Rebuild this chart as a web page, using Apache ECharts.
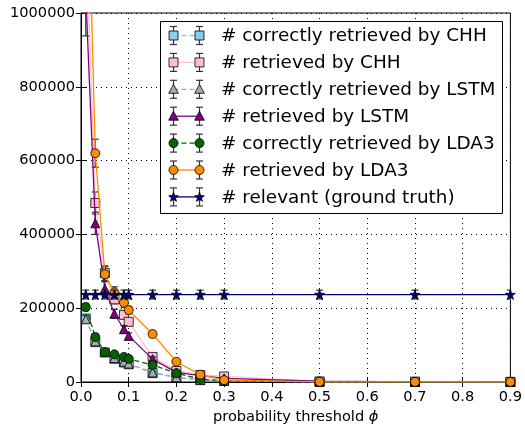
<!DOCTYPE html>
<html>
<head>
<meta charset="utf-8">
<script src="https://cdn.jsdelivr.net/npm/echarts@6/dist/echarts.min.js"></script>
<style>html,body{margin:0;padding:0;background:#fff}#c{width:525px;height:430px}</style>
</head>
<body>
<div id="c"></div>
<script>
// ---- data ----
const thresholds = [0.01, 0.03, 0.05, 0.07, 0.09, 0.1, 0.15, 0.2, 0.25, 0.3, 0.5, 0.7, 0.9];
const chhCorrect    = [172000, 108000, 80000, 63000, 53000, 48000, 24000, 12000, 5000, 3000, 500, 200, 0];
const chhRetrieved  = [1250000, 485000, 295000, 224000, 182000, 163000, 68000, 30000, 19000, 15000, 1500, 1000, 500];
const lstmCorrect   = [170000, 110000, 82000, 65000, 55000, 50000, 26000, 13000, 6000, 3000, 500, 200, 0];
const lstmRetrieved = [1050000, 430000, 253000, 185000, 143000, 125000, 62000, 26000, 17000, 10000, 2000, 500, 200];
const lda3Correct   = [203000, 122000, 81000, 75000, 68000, 63000, 46000, 24000, 8000, 3000, 0, 0, 0];
const lda3Retrieved = [1600000, 620000, 292000, 243000, 215000, 195000, 130000, 55000, 20000, 5000, 500, 300, 200];
const relevant      = [237000, 237000, 237000, 237000, 237000, 237000, 237000, 237000, 237000, 237000, 237000, 237000, 237000];
// error bar half-lengths (estimated)
const chhCorrectErr    = [10000, 8000, 6000, 5000, 4000, 4000, 3000, 2000, 1000, 1000, 300, 300, 300];
const chhRetrievedErr  = [80000, 30000, 20000, 12000, 10000, 8000, 6000, 4000, 3000, 2000, 500, 500, 500];
const lstmCorrectErr   = [10000, 8000, 6000, 5000, 4000, 4000, 3000, 2000, 1000, 1000, 300, 300, 300];
const lstmRetrievedErr = [112000, 30000, 20000, 12000, 10000, 8000, 6000, 4000, 3000, 2000, 500, 500, 500];
const lda3CorrectErr   = [10000, 8000, 6000, 5000, 4000, 4000, 3000, 2000, 1000, 1000, 300, 300, 300];
const lda3RetrievedErr = [80000, 38000, 20000, 15000, 12000, 10000, 8000, 6000, 4000, 2000, 500, 500, 500];
const relevantErr      = [12000, 12000, 12000, 12000, 12000, 12000, 12000, 12000, 12000, 12000, 12000, 12000, 12000];
const xTicks = [0, 0.1, 0.2, 0.3, 0.4, 0.5, 0.6, 0.7, 0.8, 0.9];
const yTicks = [0, 200000, 400000, 600000, 800000, 1000000];
const legendNames = ['# correctly retrieved by CHH', '# retrieved by CHH', '# correctly retrieved by LSTM',
  '# retrieved by LSTM', '# correctly retrieved by LDA3', '# retrieved by LDA3', '# relevant (ground truth)'];

const STAR = 'path://M50,0 L61.2,34.5 L97.6,34.5 L68.2,55.9 L79.4,90.5 L50,69.1 L20.6,90.5 L31.8,55.9 L2.4,34.5 L38.8,34.5 Z';
const FONT = 'DejaVu Sans';

const defs = [
  {name: legendNames[0], vals: chhCorrect, err: chhCorrectErr, color: '#87CEEB', sym: 'rect', size: 9, dash: [5, 3]},
  {name: legendNames[1], vals: chhRetrieved, err: chhRetrievedErr, color: '#FFC0CB', sym: 'rect', size: 9, dash: null},
  {name: legendNames[2], vals: lstmCorrect, err: lstmCorrectErr, color: '#AAAAAA', sym: 'triangle', size: 9, dash: [5, 3]},
  {name: legendNames[3], vals: lstmRetrieved, err: lstmRetrievedErr, color: '#800080', sym: 'triangle', size: 9, dash: null},
  {name: legendNames[4], vals: lda3Correct, err: lda3CorrectErr, color: '#006400', sym: 'circle', size: 9, dash: [5, 3]},
  {name: legendNames[5], vals: lda3Retrieved, err: lda3RetrievedErr, color: '#FF8C00', sym: 'circle', size: 9, dash: null},
  {name: legendNames[6], vals: relevant, err: relevantErr, color: '#000080', sym: STAR, size: 10, dash: null}
];

const series = [];
defs.forEach((d, i) => {
  series.push({
    type: 'custom', name: d.name + ' err', clip: true, z: 2 + i * 2,
    encode: {x: 0, y: 1},
    data: thresholds.map((t, k) => [t, d.vals[k], d.err[k]]),
    renderItem: function (params, api) {
      const x = api.value(0), y = api.value(1), e = api.value(2);
      const lo = api.coord([x, y - e]), hi = api.coord([x, y + e]);
      const st = {stroke: '#333', lineWidth: 1.2};
      return {type: 'group', children: [
        {type: 'line', shape: {x1: lo[0], y1: lo[1], x2: hi[0], y2: hi[1]}, style: st},
        {type: 'line', shape: {x1: lo[0] - 3.5, y1: lo[1], x2: lo[0] + 3.5, y2: lo[1]}, style: st},
        {type: 'line', shape: {x1: hi[0] - 3.5, y1: hi[1], x2: hi[0] + 3.5, y2: hi[1]}, style: st}
      ]};
    }
  });
  series.push({
    type: 'line', name: d.name, clip: true, z: 3 + i * 2,
    data: thresholds.map((t, k) => [t, d.vals[k]]),
    symbol: d.sym, symbolSize: d.size, showAllSymbol: true,
    lineStyle: {color: d.color, width: 1.3, type: d.dash ? d.dash : 'solid'},
    itemStyle: {color: d.color, borderColor: '#000', borderWidth: 0.8},
    emphasis: {disabled: true}, animation: false
  });
});

// legend graphic
const lgX0 = 173.5, lgX1 = 199.5, lgY0 = 35.5, lgDy = 26.9;
const graphic = [{type: 'rect', shape: {x: 160.5, y: 21.5, width: 342, height: 192}, style: {fill: '#fff', stroke: '#000', lineWidth: 1}, z: 100}];
function markerShape(sym, cx, cy, color) {
  const st = {fill: color, stroke: '#000', lineWidth: 0.8};
  if (sym === 'rect') return {type: 'rect', shape: {x: cx - 4.5, y: cy - 4.5, width: 9, height: 9}, style: st, z: 103};
  if (sym === 'circle') return {type: 'circle', shape: {cx: cx, cy: cy, r: 4.5}, style: st, z: 103};
  if (sym === 'triangle') return {type: 'polygon', shape: {points: [[cx, cy - 5], [cx + 4.8, cy + 4], [cx - 4.8, cy + 4]]}, style: st, z: 103};
  const pts = [];
  for (let k = 0; k < 10; k++) {
    const r = k % 2 === 0 ? 5 : 2.1;
    const a = -Math.PI / 2 + k * Math.PI / 5;
    pts.push([cx + r * Math.cos(a), cy + 0.4 + r * Math.sin(a)]);
  }
  return {type: 'polygon', shape: {points: pts}, style: st, z: 103};
}
defs.forEach((d, i) => {
  const y = lgY0 + i * lgDy;
  graphic.push({type: 'line', shape: {x1: lgX0, y1: y, x2: lgX1, y2: y},
    style: {stroke: d.color, lineWidth: 1.3, lineDash: d.dash ? d.dash : null}, z: 101});
  [lgX0, lgX1].forEach(cx => {
    const st = {stroke: '#333', lineWidth: 1.2};
    graphic.push({type: 'line', shape: {x1: cx, y1: y - 9, x2: cx, y2: y + 9}, style: st, z: 102});
    graphic.push({type: 'line', shape: {x1: cx - 3.5, y1: y - 9, x2: cx + 3.5, y2: y - 9}, style: st, z: 102});
    graphic.push({type: 'line', shape: {x1: cx - 3.5, y1: y + 9, x2: cx + 3.5, y2: y + 9}, style: st, z: 102});
    graphic.push(markerShape(d.sym === STAR ? 'star' : d.sym, cx, y, d.color));
  });
  graphic.push({type: 'text', x: 221, y: y + 1, style: {text: d.name, font: '18.4px "' + FONT + '"', fill: '#000', verticalAlign: 'middle', align: 'left'}, z: 103});
});

const tickStyle = {show: true, inside: true, length: 5, lineStyle: {color: '#000', width: 1}};
const option = {
  animation: false,
  backgroundColor: '#fff',
  grid: {left: 81, right: 14, top: 13, bottom: 47, show: true, borderColor: '#000', borderWidth: 1, backgroundColor: 'transparent'},
  xAxis: [
    {type: 'value', min: 0, max: 0.9, interval: 0.1, position: 'bottom',
      name: 'probability threshold {i|ϕ}', nameLocation: 'middle', nameGap: 28,
      nameTextStyle: {fontFamily: FONT, fontSize: 14.6, color: '#000', rich: {i: {fontFamily: FONT, fontStyle: 'italic', fontSize: 14.6, color: '#000'}}},
      axisLine: {show: true, lineStyle: {color: '#000'}},
      axisTick: tickStyle,
      axisLabel: {fontFamily: FONT, fontSize: 14.6, color: '#000', margin: 8, formatter: v => xTicks.includes(Math.round(v * 10) / 10) ? v.toFixed(1) : ''},
      splitLine: {show: true, lineStyle: {color: '#000', type: [1, 4], width: 1}}},
    {type: 'value', min: 0, max: 0.9, interval: 0.1, position: 'top',
      axisLine: {show: true, lineStyle: {color: '#000'}}, axisTick: tickStyle, axisLabel: {show: false}, splitLine: {show: false}}
  ],
  yAxis: [
    {type: 'value', min: 0, max: 1000000, interval: 200000, position: 'left',
      axisLine: {show: true, lineStyle: {color: '#000'}},
      axisTick: tickStyle,
      axisLabel: {fontFamily: FONT, fontSize: 14.6, color: '#000', margin: 6, formatter: v => yTicks.includes(v) ? String(v) : ''},
      splitLine: {show: true, lineStyle: {color: '#000', type: [1, 4], width: 1}}},
    {type: 'value', min: 0, max: 1000000, interval: 200000, position: 'right',
      axisLine: {show: true, lineStyle: {color: '#000'}}, axisTick: tickStyle, axisLabel: {show: false}, splitLine: {show: false}}
  ],
  series: series,
  graphic: graphic
};
const chart = echarts.init(document.getElementById('c'), null, {renderer: 'canvas'});
chart.setOption(option);
</script>
</body>
</html>
